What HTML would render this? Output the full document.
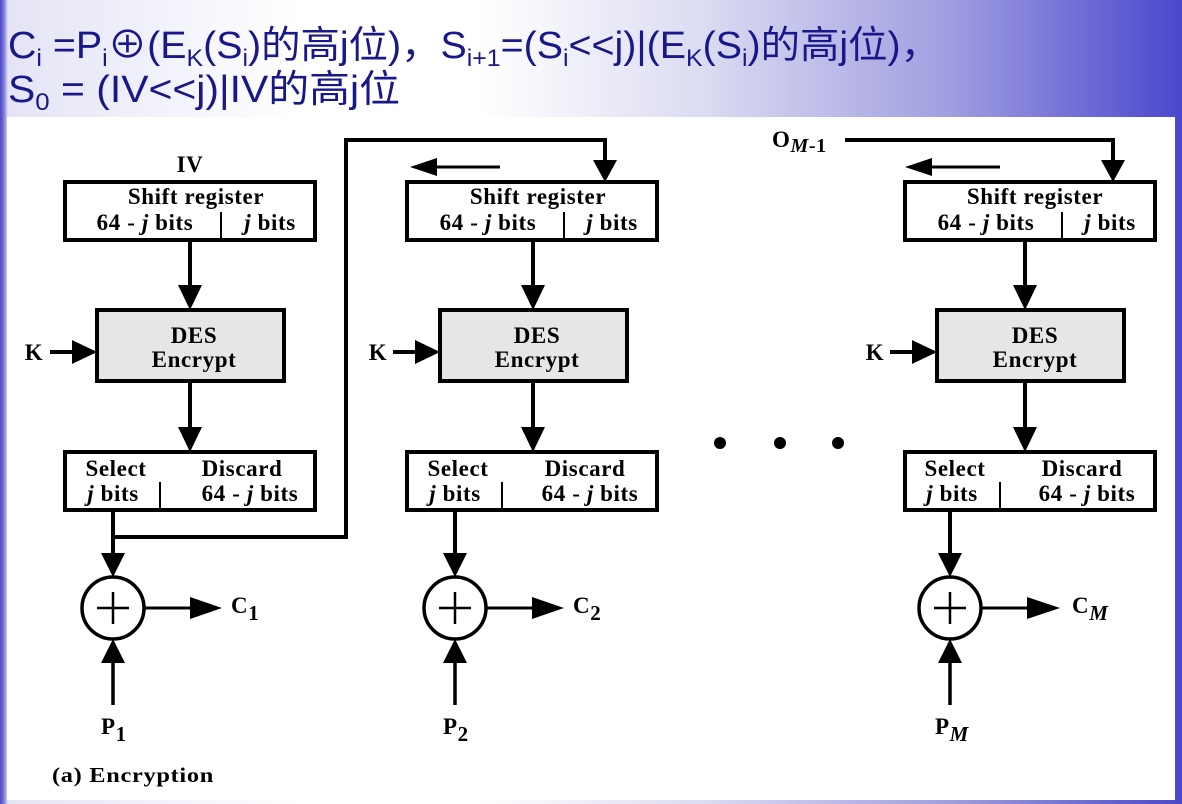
<!DOCTYPE html>
<html><head><meta charset="utf-8"><style>
html,body{margin:0;padding:0}
body{width:1182px;height:804px;overflow:hidden;position:relative;
background:linear-gradient(90deg,#4a46c8 0px,#7f7cd6 4px,#e4e4f6 8px,#ffffff 300px,#ffffff 480px,#dcdcf2 700px,#a09ee0 950px,#4b47cc 1182px);}
.panel{position:absolute;left:7px;top:117px;width:1168px;height:683px;background:#fff}
</style></head><body>
<div class="panel"></div>
<svg width="1182" height="804" style="position:absolute;left:0;top:0" xmlns="http://www.w3.org/2000/svg">
<g font-family="'Liberation Sans Narrow','Liberation Sans','Noto Sans CJK SC',sans-serif" fill="#18188a" font-size="38">
<text x="8" y="58" textLength="932" lengthAdjust="spacingAndGlyphs">C<tspan font-size="24" dy="8">i</tspan><tspan dy="-8"> =P</tspan><tspan font-size="24" dy="8">i</tspan><tspan dy="-8">⊕(E</tspan><tspan font-size="24" dy="8">K</tspan><tspan dy="-8">(S</tspan><tspan font-size="24" dy="8">i</tspan><tspan dy="-8">)的高j位)，S</tspan><tspan font-size="24" dy="8">i+1</tspan><tspan dy="-8">=(S</tspan><tspan font-size="24" dy="8">i</tspan><tspan dy="-8">&lt;&lt;j)|(E</tspan><tspan font-size="24" dy="8">K</tspan><tspan dy="-8">(S</tspan><tspan font-size="24" dy="8">i</tspan><tspan dy="-8">)的高j位)，</tspan></text>
<text x="8" y="102" textLength="392" lengthAdjust="spacingAndGlyphs">S<tspan font-size="24" dy="8">0</tspan><tspan dy="-8"> = (IV&lt;&lt;j)|IV的高j位</tspan></text>
</g>
<g stroke="#000" stroke-width="4" fill="none">
<rect x="65" y="182" width="250" height="58" fill="#fff"/>
<line x1="221" y1="212" x2="221" y2="240" stroke-width="2"/>
<rect x="97" y="310" width="187" height="71" fill="#e6e6e6"/>
<rect x="65" y="452" width="250" height="58" fill="#fff"/>
<line x1="160" y1="482" x2="160" y2="510" stroke-width="2"/>
<circle cx="113" cy="608" r="31" stroke-width="3.5"/>
<rect x="407" y="182" width="250" height="58" fill="#fff"/>
<line x1="564" y1="212" x2="564" y2="240" stroke-width="2"/>
<rect x="440" y="310" width="187" height="71" fill="#e6e6e6"/>
<rect x="407" y="452" width="250" height="58" fill="#fff"/>
<line x1="502" y1="482" x2="502" y2="510" stroke-width="2"/>
<circle cx="455" cy="608" r="31" stroke-width="3.5"/>
<rect x="905" y="182" width="250" height="58" fill="#fff"/>
<line x1="1062" y1="212" x2="1062" y2="240" stroke-width="2"/>
<rect x="937" y="310" width="187" height="71" fill="#e6e6e6"/>
<rect x="905" y="452" width="250" height="58" fill="#fff"/>
<line x1="1000" y1="482" x2="1000" y2="510" stroke-width="2"/>
<circle cx="950" cy="608" r="31" stroke-width="3.5"/>
<polyline points="113,510 113,537 346,537 346,140 605,140 605,168"/>
<polyline points="845,140 1113,140 1113,168"/>
</g>
<g fill="#000">
<path d="M593,160 L617,160 L605,182 z"/>
<path d="M1101,160 L1125,160 L1113,182 z"/>
</g>
<g stroke="#000" stroke-width="4">
<line x1="190" y1="240" x2="190" y2="290"/><line x1="190" y1="381" x2="190" y2="432"/>
<line x1="533" y1="240" x2="533" y2="290"/><line x1="533" y1="381" x2="533" y2="432"/>
<line x1="1025" y1="240" x2="1025" y2="290"/><line x1="1025" y1="381" x2="1025" y2="432"/>
<line x1="113" y1="537" x2="113" y2="560"/>
<line x1="455" y1="510" x2="455" y2="560"/>
<line x1="950" y1="510" x2="950" y2="560"/>
<line x1="50" y1="352" x2="80" y2="352"/><line x1="393" y1="352" x2="423" y2="352"/><line x1="890" y1="352" x2="920" y2="352"/>
<line x1="113" y1="705" x2="113" y2="660" stroke-width="3.5"/><line x1="455" y1="705" x2="455" y2="660" stroke-width="3.5"/><line x1="950" y1="705" x2="950" y2="660" stroke-width="3.5"/>
</g>
<g stroke="#000" stroke-width="3">
<line x1="144" y1="608" x2="200" y2="608"/><line x1="486" y1="608" x2="542" y2="608"/><line x1="981" y1="608" x2="1037" y2="608"/>
<line x1="435" y1="167" x2="500" y2="167"/><line x1="930" y1="167" x2="1000" y2="167"/>
<line x1="97" y1="608" x2="129" y2="608" stroke-width="2.5"/><line x1="113" y1="592" x2="113" y2="624" stroke-width="2.5"/>
<line x1="439" y1="608" x2="471" y2="608" stroke-width="2.5"/><line x1="455" y1="592" x2="455" y2="624" stroke-width="2.5"/>
<line x1="934" y1="608" x2="966" y2="608" stroke-width="2.5"/><line x1="950" y1="592" x2="950" y2="624" stroke-width="2.5"/>
</g>
<g fill="#000">
<path d="M178,285 L202,285 L190,310 z"/><path d="M178,427 L202,427 L190,452 z"/>
<path d="M521,285 L545,285 L533,310 z"/><path d="M521,427 L545,427 L533,452 z"/>
<path d="M1013,285 L1037,285 L1025,310 z"/><path d="M1013,427 L1037,427 L1025,452 z"/>
<path d="M101,553 L125,553 L113,577 z"/><path d="M443,553 L467,553 L455,577 z"/><path d="M938,553 L962,553 L950,577 z"/>
<path d="M101,663 L125,663 L113,639 z"/><path d="M443,663 L467,663 L455,639 z"/><path d="M938,663 L962,663 L950,639 z"/>
<path d="M72,340 L72,364 L97,352 z"/><path d="M415,340 L415,364 L440,352 z"/><path d="M912,340 L912,364 L937,352 z"/>
<path d="M190,597 L190,619 L222,608 z"/><path d="M532,597 L532,619 L564,608 z"/><path d="M1027,597 L1027,619 L1060,608 z"/>
<path d="M410,167 L437,158 L437,176 z"/><path d="M905,167 L932,158 L932,176 z"/>
<circle cx="720" cy="443" r="6"/><circle cx="780" cy="443" r="6"/><circle cx="838" cy="443" r="6"/>
</g>
<g font-family="'Liberation Serif',serif" font-weight="bold" fill="#000" font-size="23" text-anchor="middle" letter-spacing="0.6">
<text x="190" y="172">IV</text>
<text x="196" y="204">Shift register</text><text x="538" y="204">Shift register</text><text x="1035" y="204">Shift register</text>
<text x="145" y="230">64 - <tspan font-style="italic">j</tspan> bits</text><text x="270" y="230"><tspan font-style="italic">j</tspan> bits</text>
<text x="488" y="230">64 - <tspan font-style="italic">j</tspan> bits</text><text x="612" y="230"><tspan font-style="italic">j</tspan> bits</text>
<text x="986" y="230">64 - <tspan font-style="italic">j</tspan> bits</text><text x="1110" y="230"><tspan font-style="italic">j</tspan> bits</text>
<text x="194" y="343">DES</text><text x="194" y="367">Encrypt</text>
<text x="537" y="343">DES</text><text x="537" y="367">Encrypt</text>
<text x="1035" y="343">DES</text><text x="1035" y="367">Encrypt</text>
<text x="34" y="360">K</text><text x="378" y="360">K</text><text x="875" y="360">K</text>
<text x="116" y="476">Select</text><text x="242" y="476">Discard</text>
<text x="113" y="501"><tspan font-style="italic">j</tspan> bits</text><text x="250" y="501">64 - <tspan font-style="italic">j</tspan> bits</text>
<text x="458" y="476">Select</text><text x="585" y="476">Discard</text>
<text x="455" y="501"><tspan font-style="italic">j</tspan> bits</text><text x="590" y="501">64 - <tspan font-style="italic">j</tspan> bits</text>
<text x="955" y="476">Select</text><text x="1082" y="476">Discard</text>
<text x="952" y="501"><tspan font-style="italic">j</tspan> bits</text><text x="1087" y="501">64 - <tspan font-style="italic">j</tspan> bits</text>
</g>
<g font-family="'Liberation Serif',serif" font-weight="bold" fill="#000" font-size="23" letter-spacing="0.6">
<text x="231" y="613">C<tspan font-size="21" dy="7">1</tspan></text>
<text x="573" y="613">C<tspan font-size="21" dy="7">2</tspan></text>
<text x="1072" y="613">C<tspan font-size="21" dy="7" font-style="italic">M</tspan></text>
<text x="101" y="734">P<tspan font-size="21" dy="7">1</tspan></text>
<text x="443" y="734">P<tspan font-size="21" dy="7">2</tspan></text>
<text x="935" y="734">P<tspan font-size="21" dy="7" font-style="italic">M</tspan></text>
<text x="772" y="147">O<tspan font-size="20" dy="5" font-style="italic">M</tspan><tspan font-size="20">-1</tspan></text>
<text x="52" y="782" font-size="21" textLength="162" lengthAdjust="spacingAndGlyphs">(a) Encryption</text>
</g>
</svg>
</body></html>
